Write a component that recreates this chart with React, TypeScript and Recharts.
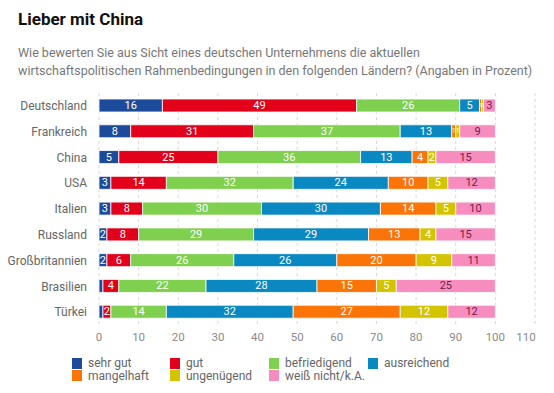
import React from "react";
import { BarChart, Bar, XAxis, YAxis, CartesianGrid, LabelList } from "recharts";

const countries = ["Deutschland", "Frankreich", "China", "USA", "Italien", "Russland", "Großbritannien", "Brasilien", "Türkei"];
const sehrGut = [16, 8, 5, 3, 3, 2, 2, 1, 1];
const gut = [49, 31, 25, 14, 8, 8, 6, 4, 2];
const befriedigend = [26, 37, 36, 32, 30, 29, 26, 22, 14];
const ausreichend = [5, 13, 13, 24, 30, 29, 26, 28, 32];
const mangelhaft = [0.5, 1, 4, 10, 14, 13, 20, 15, 27];
const ungenuegend = [0.5, 1, 2, 5, 5, 4, 9, 5, 12];
const weissNicht = [3, 9, 15, 12, 10, 15, 11, 25, 12];
const xTicks = [0, 10, 20, 30, 40, 50, 60, 70, 80, 90, 100, 110];

const seriesNames = ["sehr gut", "gut", "befriedigend", "ausreichend", "mangelhaft", "ungenügend", "weiß nicht/k.A."];
const seriesKeys = ["sehrGut", "gut", "befriedigend", "ausreichend", "mangelhaft", "ungenuegend", "weissNicht"];
const seriesColors = ["#1d4b9b", "#e2001a", "#80d04f", "#0a88c2", "#fa7407", "#d4c400", "#f78dbf"];
const labelColors = ["#fff", "#fff", "#fff", "#fff", "#fff", "#fff", "#6b2346"];
const minLabel = [2, 0, 0, 0, 0, 0, 0];
const seriesValues = [sehrGut, gut, befriedigend, ausreichend, mangelhaft, ungenuegend, weissNicht];

const data = countries.map((c, i) => {
  const row: any = { country: c };
  seriesKeys.forEach((k, j) => {
    row[k] = seriesValues[j][i];
  });
  return row;
});

const FONT = "Roboto, 'Noto Sans', sans-serif";

const makeLabel = (j: number) => (props: any) => {
  const { x, y, width, height, value } = props;
  if (value == null || value < minLabel[j]) return null;
  const fs = width < 3 ? 4.5 : width < 6 ? 7 : 11;
  return (
    <text
      x={x + width / 2}
      y={y + height / 2}
      textAnchor="middle"
      dominantBaseline="central"
      fill={labelColors[j]}
      fontSize={fs}
      fontFamily={FONT}
    >
      {Math.round(value)}
    </text>
  );
};

const XTick = (props: any) => {
  const { x, y, payload } = props;
  const dx = payload.value === 110 ? -9 : 0;
  return (
    <text x={x + dx} y={y} dy="0.71em" textAnchor="middle" fill="#8a8a8a" fontSize={11.5} fontFamily={FONT}>
      {payload.value}
    </text>
  );
};

const legendCols = [72, 170, 269, 368];

export default function App() {
  return (
    <div style={{ position: "absolute", left: 0, top: 0, width: 554, height: 393, background: "#fff", fontFamily: FONT }}>
      <div style={{ position: "absolute", left: 18, top: 9, fontSize: 17, fontWeight: 700, color: "#111", whiteSpace: "nowrap" }}>
        Lieber mit China
      </div>
      <div style={{ position: "absolute", left: 18, top: 44, width: 530, fontSize: 12.5, lineHeight: "17.5px", color: "#777" }}>
        Wie bewerten Sie aus Sicht eines deutschen Unternehmens die aktuellen
        <br />
        wirtschaftspolitischen Rahmenbedingungen in den folgenden Ländern? (Angaben in Prozent)
      </div>
      <div style={{ position: "absolute", left: 0, top: 0 }}>
        <BarChart
          width={554}
          height={393}
          data={data}
          layout="vertical"
          margin={{ top: 93, right: 19, bottom: 48, left: 0 }}
          barSize={13}
        >
          <CartesianGrid horizontal={false} vertical={true} stroke="#d8d8d8" strokeDasharray="3 3" />
          <XAxis
            type="number"
            domain={[0, 110]}
            ticks={xTicks}
            axisLine={false}
            tickLine={false}
            tickSize={0}
            tickMargin={8}
            height={20}
            tick={<XTick />}
            interval={0}
          />
          <YAxis
            type="category"
            dataKey="country"
            width={99}
            axisLine={false}
            tickLine={false}
            tickSize={0}
            tickMargin={12}
            tick={{ fill: "#666", fontSize: 12, fontFamily: FONT }}
            interval={0}
          />
          {seriesKeys.map((k, j) => (
            <Bar key={k} dataKey={k} stackId="a" fill={seriesColors[j]} stroke="#fff" strokeWidth={0.8} isAnimationActive={false}>
              <LabelList dataKey={k} content={makeLabel(j)} />
            </Bar>
          ))}
        </BarChart>
      </div>
      {seriesNames.map((n, j) => {
        const col = j < 4 ? j : j - 4;
        const row = j < 4 ? 0 : 1;
        return (
          <div
            key={n}
            style={{ position: "absolute", left: legendCols[col], top: 357 + row * 12.5, height: 12, display: "flex", alignItems: "center", whiteSpace: "nowrap" }}
          >
            <div style={{ width: 10, height: 11, background: seriesColors[j], marginRight: 6 }} />
            <span style={{ fontSize: 12, color: "#666", lineHeight: "12px" }}>{n}</span>
          </div>
        );
      })}
    </div>
  );
}
